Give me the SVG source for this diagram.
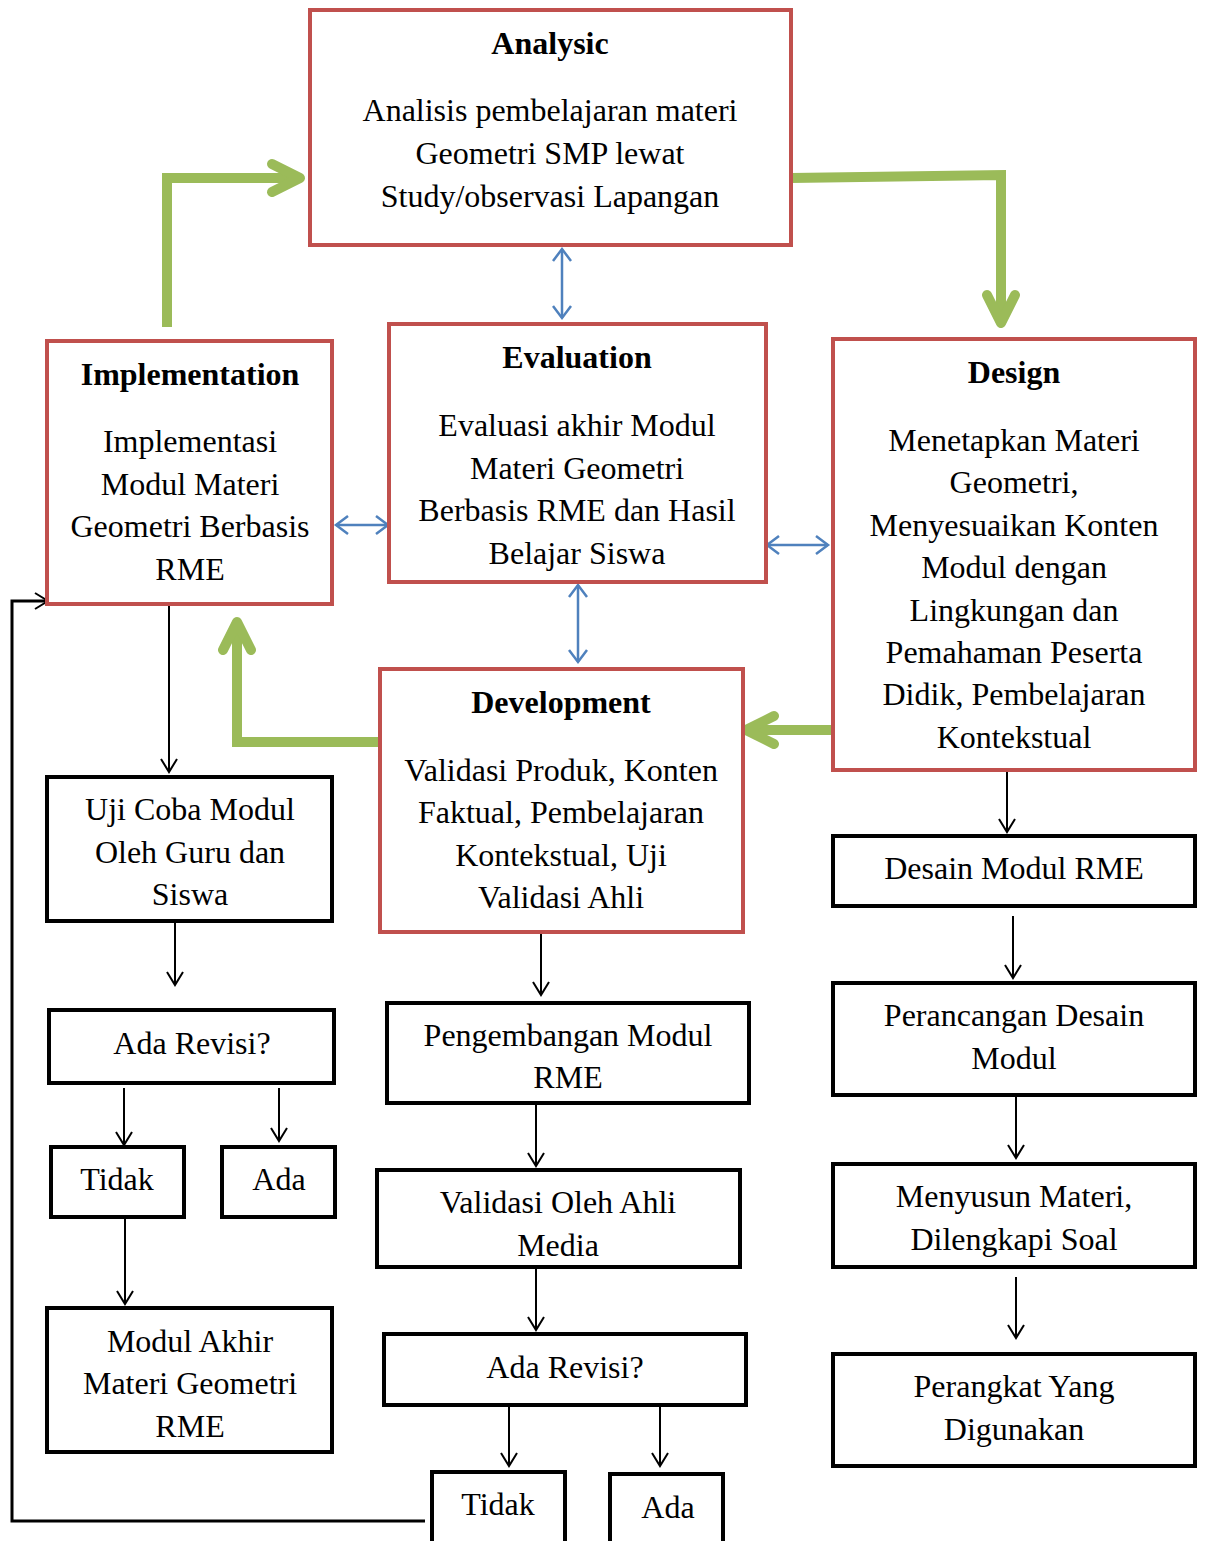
<svg xmlns="http://www.w3.org/2000/svg" width="1206" height="1541" viewBox="0 0 1206 1541">
<style>
text{font-family:"Liberation Serif","Times New Roman",serif;font-size:32px;fill:#000;text-anchor:middle;dominant-baseline:central}
.t{font-weight:bold}
.r{fill:#fff;stroke:#C0504D;stroke-width:4}
.k{fill:#fff;stroke:#000;stroke-width:4}
.g{fill:none;stroke:#9BBB59;stroke-width:10}
.b{fill:none;stroke:#4F81BD;stroke-width:2.5}
.a{fill:none;stroke:#000;stroke-width:2}
</style>
<defs>
<marker id="mb" markerUnits="userSpaceOnUse" markerWidth="30" markerHeight="30" viewBox="-15 -15 30 30" refX="0" refY="0" orient="auto-start-reverse"><path d="M-12,-9 L0,0 L-12,9" fill="none" stroke="#4F81BD" stroke-width="2.5"/></marker>
<marker id="mk" markerUnits="userSpaceOnUse" markerWidth="30" markerHeight="30" viewBox="-15 -15 30 30" refX="0" refY="0" orient="auto"><path d="M-13,-8 L0,0 L-13,8" fill="none" stroke="#000" stroke-width="2"/></marker>
<marker id="mg" markerUnits="userSpaceOnUse" markerWidth="60" markerHeight="60" viewBox="-40 -30 60 60" refX="0" refY="0" orient="auto"><path d="M-28,-14 L0,0 L-28,14" fill="none" stroke="#9BBB59" stroke-width="10" stroke-linecap="round" stroke-linejoin="round"/></marker>
</defs>
<g id="connectors">
<polyline class="g" points="167,327 167,178 300,178" marker-end="url(#mg)"/>
<polyline class="g" points="791,178 1001,175 1001,323" marker-end="url(#mg)"/>
<polyline class="g" points="833,730 746,730" marker-end="url(#mg)"/>
<polyline class="g" points="380,742 237,742 237,622" marker-end="url(#mg)"/>
<line class="b" x1="562" y1="249" x2="562" y2="318" marker-start="url(#mb)" marker-end="url(#mb)"/>
<line class="b" x1="336" y1="525" x2="388" y2="525" marker-start="url(#mb)" marker-end="url(#mb)"/>
<line class="b" x1="767" y1="545" x2="828" y2="545" marker-start="url(#mb)" marker-end="url(#mb)"/>
<line class="b" x1="578" y1="585" x2="578" y2="662" marker-start="url(#mb)" marker-end="url(#mb)"/>
<line class="a" x1="169" y1="606" x2="169" y2="772" marker-end="url(#mk)"/>
<line class="a" x1="175" y1="923" x2="175" y2="985" marker-end="url(#mk)"/>
<line class="a" x1="124" y1="1088" x2="124" y2="1145" marker-end="url(#mk)"/>
<line class="a" x1="279" y1="1088" x2="279" y2="1141" marker-end="url(#mk)"/>
<line class="a" x1="125" y1="1219" x2="125" y2="1304" marker-end="url(#mk)"/>
<line class="a" x1="541" y1="932" x2="541" y2="995" marker-end="url(#mk)"/>
<line class="a" x1="536" y1="1105" x2="536" y2="1166" marker-end="url(#mk)"/>
<line class="a" x1="536" y1="1269" x2="536" y2="1330" marker-end="url(#mk)"/>
<line class="a" x1="509" y1="1407" x2="509" y2="1466" marker-end="url(#mk)"/>
<line class="a" x1="660" y1="1407" x2="660" y2="1466" marker-end="url(#mk)"/>
<line class="a" x1="1007" y1="771" x2="1007" y2="832" marker-end="url(#mk)"/>
<line class="a" x1="1013" y1="916" x2="1013" y2="978" marker-end="url(#mk)"/>
<line class="a" x1="1016" y1="1097" x2="1016" y2="1158" marker-end="url(#mk)"/>
<line class="a" x1="1016" y1="1277" x2="1016" y2="1338" marker-end="url(#mk)"/>
<polyline fill="none" stroke="#000" stroke-width="3" points="425,1521 12,1521 12,601 48,601" marker-end="url(#mk)"/>
</g>
<g id="analysic">
<rect class="r" x="310" y="10" width="481" height="235"/>
<text class="t" x="550" y="43">Analysic</text>
<text x="550" y="110">Analisis pembelajaran materi</text>
<text x="550" y="153">Geometri SMP lewat</text>
<text x="550" y="196">Study/observasi Lapangan</text>
</g>
<g id="implementation">
<rect class="r" x="47" y="341" width="285" height="263"/>
<text class="t" x="190" y="374">Implementation</text>
<text x="190" y="441">Implementasi</text>
<text x="190" y="484">Modul Materi</text>
<text x="190" y="526">Geometri Berbasis</text>
<text x="190" y="569">RME</text>
</g>
<g id="evaluation">
<rect class="r" x="389" y="324" width="377" height="258"/>
<text class="t" x="577" y="357">Evaluation</text>
<text x="577" y="425">Evaluasi akhir Modul</text>
<text x="577" y="468">Materi Geometri</text>
<text x="577" y="510">Berbasis RME dan Hasil</text>
<text x="577" y="553">Belajar Siswa</text>
</g>
<g id="design">
<rect class="r" x="833" y="339" width="362" height="431"/>
<text class="t" x="1014" y="372">Design</text>
<text x="1014" y="440">Menetapkan Materi</text>
<text x="1014" y="482">Geometri,</text>
<text x="1014" y="525">Menyesuaikan Konten</text>
<text x="1014" y="567">Modul dengan</text>
<text x="1014" y="610">Lingkungan dan</text>
<text x="1014" y="652">Pemahaman Peserta</text>
<text x="1014" y="694">Didik, Pembelajaran</text>
<text x="1014" y="737">Kontekstual</text>
</g>
<g id="development">
<rect class="r" x="380" y="669" width="363" height="263"/>
<text class="t" x="561" y="702">Development</text>
<text x="561" y="770">Validasi Produk, Konten</text>
<text x="561" y="812">Faktual, Pembelajaran</text>
<text x="561" y="855">Kontekstual, Uji</text>
<text x="561" y="897">Validasi Ahli</text>
</g>
<g id="ujicoba">
<rect class="k" x="47" y="777" width="285" height="144"/>
<text x="190" y="809">Uji Coba Modul</text>
<text x="190" y="852">Oleh Guru dan</text>
<text x="190" y="894">Siswa</text>
</g>
<g id="adarevisi1">
<rect class="k" x="49" y="1010" width="285" height="73"/>
<text x="192" y="1043">Ada Revisi?</text>
</g>
<g id="tidak1">
<rect class="k" x="51" y="1147" width="133" height="70"/>
<text x="117" y="1179">Tidak</text>
</g>
<g id="ada1">
<rect class="k" x="222" y="1147" width="113" height="70"/>
<text x="279" y="1179">Ada</text>
</g>
<g id="modulakhir">
<rect class="k" x="47" y="1308" width="285" height="144"/>
<text x="190" y="1341">Modul Akhir</text>
<text x="190" y="1383">Materi Geometri</text>
<text x="190" y="1426">RME</text>
</g>
<g id="pengembangan">
<rect class="k" x="387" y="1003" width="362" height="100"/>
<text x="568" y="1035">Pengembangan Modul</text>
<text x="568" y="1077">RME</text>
</g>
<g id="validasi">
<rect class="k" x="377" y="1170" width="363" height="97"/>
<text x="558" y="1202">Validasi Oleh Ahli</text>
<text x="558" y="1245">Media</text>
</g>
<g id="adarevisi2">
<rect class="k" x="384" y="1334" width="362" height="71"/>
<text x="565" y="1367">Ada Revisi?</text>
</g>
<g id="tidak2">
<rect class="k" x="432" y="1472" width="133" height="75"/>
<text x="498" y="1504">Tidak</text>
</g>
<g id="ada2">
<rect class="k" x="610" y="1474" width="113" height="75"/>
<text x="668" y="1507">Ada</text>
</g>
<g id="desainmodul">
<rect class="k" x="833" y="836" width="362" height="70"/>
<text x="1014" y="868">Desain Modul RME</text>
</g>
<g id="perancangan">
<rect class="k" x="833" y="983" width="362" height="112"/>
<text x="1014" y="1015">Perancangan Desain</text>
<text x="1014" y="1058">Modul</text>
</g>
<g id="menyusun">
<rect class="k" x="833" y="1164" width="362" height="103"/>
<text x="1014" y="1196">Menyusun Materi,</text>
<text x="1014" y="1239">Dilengkapi Soal</text>
</g>
<g id="perangkat">
<rect class="k" x="833" y="1354" width="362" height="112"/>
<text x="1014" y="1386">Perangkat Yang</text>
<text x="1014" y="1429">Digunakan</text>
</g>
</svg>
